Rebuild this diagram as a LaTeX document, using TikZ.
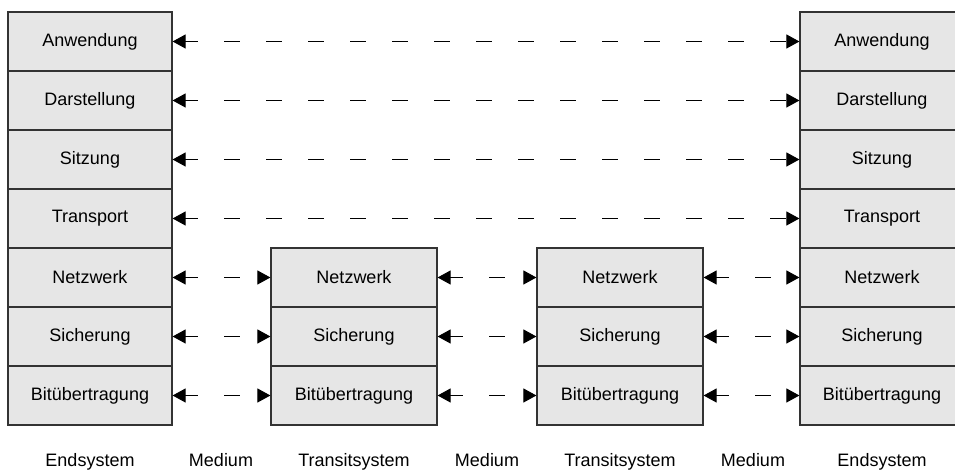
\documentclass[tikz,border=0pt]{standalone}
\usepackage{fontspec}
\setmainfont{Liberation Sans}
\usetikzlibrary{arrows.meta}
\definecolor{layergray}{RGB}{230,230,230}

\begin{document}
\begin{tikzpicture}[x=0.5pt,y=-0.5pt,
    layer/.style={draw=black!80,fill=layergray,line width=0.6pt,
      minimum width=82pt,minimum height=29.5pt,inner sep=0pt,
      font=\fontsize{9}{11}\selectfont},
    peer/.style={{Triangle[length=6.5pt,width=7pt]}-{Triangle[length=6.5pt,width=7pt]},
      line width=0.5pt,dash pattern=on 8pt off 13pt,dash phase=1.5pt},
    caption/.style={font=\fontsize{9}{11}\selectfont,anchor=base}
   ]
  \useasboundingbox (0,0) rectangle (955,474);
  \clip (0,0) rectangle (955,474);

  % end systems
  \foreach \name [count=\i] in {Anwendung,Darstellung,Sitzung,Transport,Netzwerk,Sicherung,Bitübertragung} {
    \node[layer] (l\i) at (90,{12+59*(\i-0.5)}) {\name};
    \node[layer] (r\i) at (882,{12+59*(\i-0.5)}) {\name};
  }

  % transit systems
  \foreach \name [count=\i from 5] in {Netzwerk,Sicherung,Bitübertragung} {
    \node[layer,minimum width=83pt] (s\i) at (354,{12+59*(\i-0.5)}) {\name};
    \node[layer,minimum width=83pt] (t\i) at (620,{12+59*(\i-0.5)}) {\name};
  }

  % peer connections
  \foreach \i in {1,...,4}
    \draw[peer] (l\i.east) -- (r\i.west);
  \foreach \i in {5,6,7} {
    \draw[peer] (l\i.east) -- (s\i.west);
    \draw[peer] (s\i.east) -- (t\i.west);
    \draw[peer] (t\i.east) -- (r\i.west);
  }

  % captions
  \foreach \x/\txt [count=\j] in {90/Endsystem,221/Medium,354/Transitsystem,487/Medium,620/Transitsystem,753/Medium,882/Endsystem}
    \node[caption] (cap\j) at (\x,467) {\txt};
\end{tikzpicture}
\end{document}
